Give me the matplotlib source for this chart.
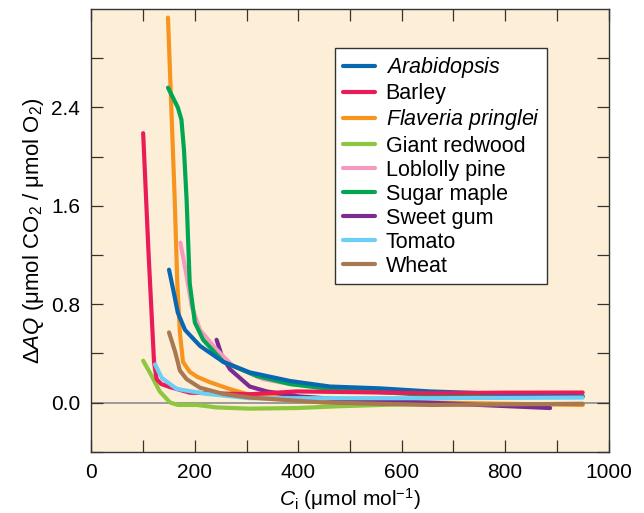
import matplotlib
matplotlib.use('Agg')
import matplotlib.pyplot as plt

plt.rcParams['font.family'] = ['Liberation Sans', 'DejaVu Sans']
plt.rcParams['mathtext.fontset'] = 'custom'
plt.rcParams['mathtext.rm'] = 'Liberation Sans'
plt.rcParams['mathtext.it'] = 'Liberation Sans:italic'

# data: Ci (umol/mol) vs delta AQ
arab_x = [150, 158, 167, 181, 210, 255, 306, 384, 461, 558, 655, 800, 950]
arab_y = [1.08, 0.92, 0.73, 0.59, 0.46, 0.33, 0.245, 0.175, 0.13, 0.115, 0.09, 0.07, 0.05]

barley_x = [100, 110, 121, 126, 135, 152, 190, 306, 397, 500, 655, 800, 950]
barley_y = [2.19, 1.25, 0.33, 0.19, 0.15, 0.125, 0.08, 0.067, 0.09, 0.085, 0.075, 0.08, 0.081]

flav_x = [148, 161, 166, 171, 177, 190, 204, 229, 267, 300, 384, 500, 650, 800, 950]
flav_y = [3.13, 1.65, 0.97, 0.57, 0.33, 0.25, 0.21, 0.165, 0.11, 0.07, 0.04, 0.01, 0.0, -0.01, -0.02]

redwood_x = [100, 116, 132, 152, 167, 204, 242, 306, 397, 481, 600, 700]
redwood_y = [0.34, 0.22, 0.09, 0.0, -0.02, -0.02, -0.04, -0.05, -0.045, -0.03, -0.015, -0.01]

pine_x = [172, 184, 194, 210, 242, 273, 332, 384, 461, 600, 700]
pine_y = [1.30, 1.03, 0.78, 0.59, 0.43, 0.30, 0.19, 0.15, 0.12, 0.09, 0.08]

maple_x = [148, 167, 174, 179, 184, 190, 200, 216, 255, 320, 384, 461, 655, 950]
maple_y = [2.56, 2.40, 2.30, 2.05, 1.65, 0.97, 0.65, 0.51, 0.33, 0.215, 0.15, 0.11, 0.06, 0.05]

gum_x = [242, 252, 268, 306, 339, 400, 500, 650, 751, 887]
gum_y = [0.51, 0.38, 0.27, 0.13, 0.09, 0.05, 0.02, 0.0, -0.02, -0.045]

tomato_x = [123, 136, 165, 223, 306, 450, 650, 950]
tomato_y = [0.31, 0.20, 0.11, 0.07, 0.035, 0.035, 0.035, 0.04]

wheat_x = [150, 162, 171, 184, 210, 255, 306, 450, 655, 950]
wheat_y = [0.57, 0.41, 0.26, 0.19, 0.12, 0.07, 0.04, 0.0, -0.02, -0.01]

names = ['$\\it{Arabidopsis}$', 'Barley', '$\\it{Flaveria\\ pringlei}$', 'Giant redwood',
         'Loblolly pine', 'Sugar maple', 'Sweet gum', 'Tomato', 'Wheat']
series = [(arab_x, arab_y), (barley_x, barley_y), (flav_x, flav_y), (redwood_x, redwood_y),
          (pine_x, pine_y), (maple_x, maple_y), (gum_x, gum_y), (tomato_x, tomato_y),
          (wheat_x, wheat_y)]
colors = ['#0767b1', '#ea1c57', '#f7941e', '#8dc63f', '#f49ac1', '#00a651', '#7b2c8f',
          '#6dcff6', '#a87850']
# drawing order (index into the lists above), legend keeps the list order
draw_order = [3, 2, 6, 4, 5, 0, 1, 7, 8]

fig = plt.figure(figsize=(6.44, 5.13), dpi=100)
ax = fig.add_axes([0.142, 0.1195, 0.803, 0.863])
ax.set_facecolor('#fdefd7')

ax.axhline(0, color='#9a9a9a', lw=1.4, zorder=1)

handles = [None] * len(names)
for i in draw_order:
    x, y = series[i]
    h, = ax.plot(x, y, color=colors[i], lw=3, solid_capstyle='round',
                 solid_joinstyle='round', zorder=2)
    handles[i] = h

ax.set_xlim(0, 1000)
ax.set_ylim(-0.4, 3.2)

xt = list(range(0, 1001, 100))
ax.set_xticks(xt)
ax.set_xticklabels([str(v) if v % 200 == 0 else '' for v in xt])
yt = [-0.4 + 0.4 * k for k in range(9)]
ax.set_yticks(yt)
ax.set_yticklabels(['%.1f' % v if k % 2 == 1 else '' for k, v in enumerate(yt)])

ax.tick_params(direction='in', length=8.5, width=0.9, color='#333333',
               top=True, right=True, labelsize=15, pad=8)
for s in ax.spines.values():
    s.set_color('#333333')
    s.set_linewidth(1.0)

ax.set_xlabel('$C_{\\mathrm{i}}$ (μmol mol$^{-1}$)', fontsize=15, labelpad=3)
ax.set_ylabel('$\\Delta \\it{AQ}$ (μmol CO$_2$ / μmol O$_2$)', fontsize=16, labelpad=4)

leg = ax.legend(handles, names, loc='upper left', bbox_to_anchor=(0.471, 0.912),
                borderaxespad=0, fontsize=15.5, frameon=True, fancybox=False,
                framealpha=1, edgecolor='#333333', handlelength=1.5,
                handletextpad=0.5, labelspacing=0.14, borderpad=0.35)
leg.get_frame().set_linewidth(1.0)

fig.savefig('out.png', dpi=100)
